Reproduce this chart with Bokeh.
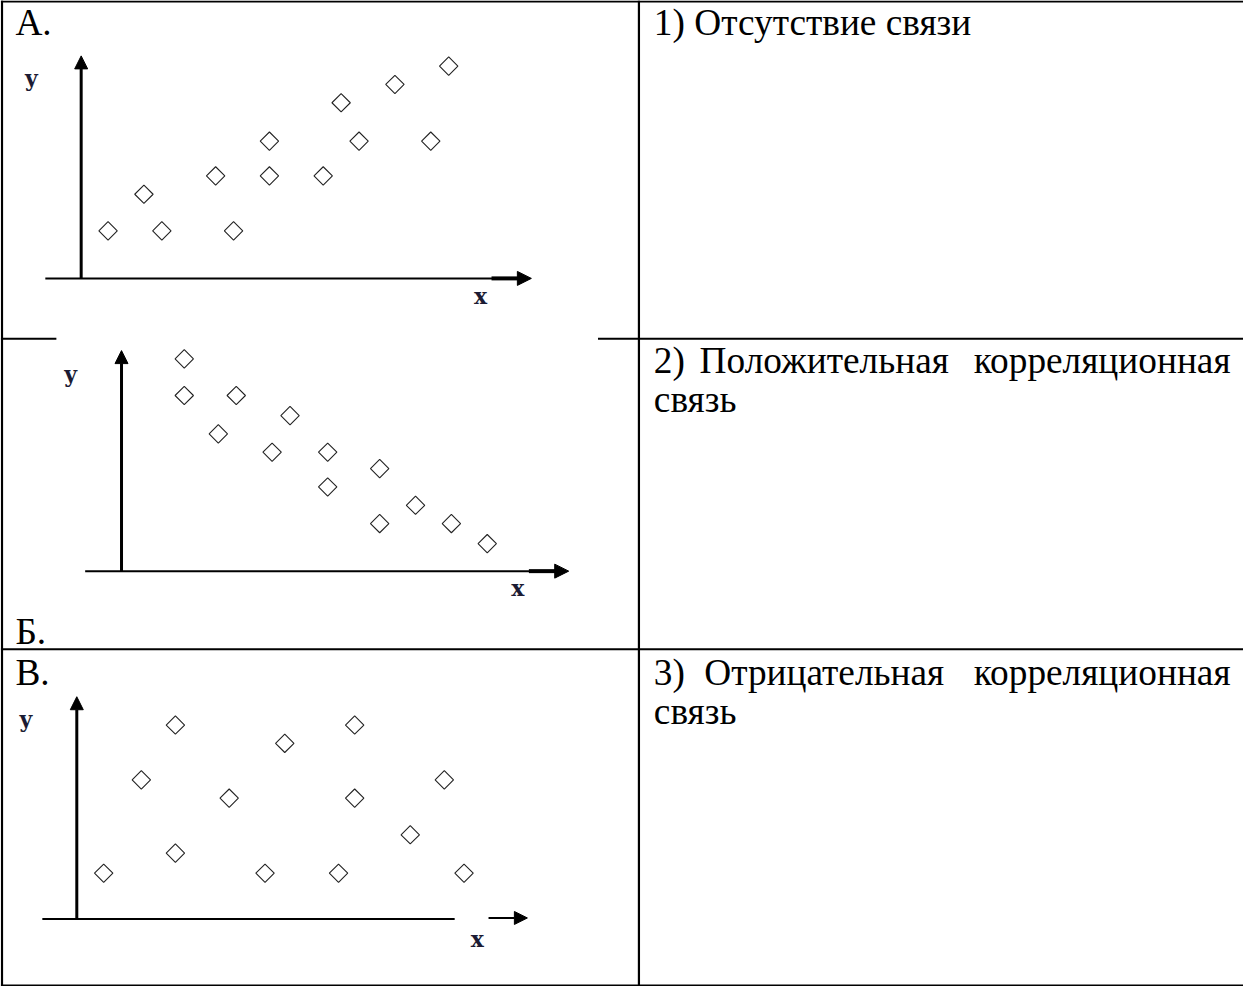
import numpy as np
from bokeh.plotting import figure
from bokeh.models import Range1d, Arrow, NormalHead
from bokeh.core.properties import value
from bokeh.embed import file_html
from bokeh.resources import INLINE

# ---------------- data ----------------
panel_labels = ["А.", "Б.", "В."]
answer_1 = "1) Отсутствие связи"
answer_2 = ["2)", "Положительная", "корреляционная", "связь"]
answer_3 = ["3)", "Отрицательная", "корреляционная", "связь"]
axis_x_label = "x"
axis_y_label = "y"

# panel А (positive trend)
a_x = [1.5, 3.5, 4.5, 7.5, 8.5, 10.5, 10.5, 13.5, 14.5, 15.5, 17.5, 19.5, 20.5]
a_y = [2.6, 4.6, 2.6, 5.6, 2.6, 7.5, 5.6, 5.6, 9.6, 7.5, 10.6, 7.5, 11.6]
# panel Б (negative trend)
b_x = [3.5, 3.5, 6.4, 5.4, 9.4, 8.4, 11.5, 11.5, 14.4, 14.4, 16.4, 18.4, 20.4]
b_y = [11.6, 9.6, 9.6, 7.5, 8.5, 6.5, 6.5, 4.6, 5.6, 2.6, 3.6, 2.6, 1.5]
# panel В (no relation)
c_x = [1.5, 3.6, 5.5, 5.5, 8.5, 10.5, 11.6, 14.6, 15.5, 15.5, 18.6, 20.5, 21.6]
c_y = [2.5, 7.6, 10.6, 3.6, 6.6, 2.5, 9.6, 2.5, 10.6, 6.6, 4.6, 7.6, 2.5]

# ---------------- layout (page coordinates) ----------------
X0, X1 = 5, 1253
YB, YT = 1001, 4
UX, UY = 18.0, 18.5

p = figure(width=1243, height=986, x_range=Range1d(X0, X1), y_range=Range1d(YB, YT),
           output_backend="svg", toolbar_location=None, min_border=0,
           x_axis_type=None, y_axis_type=None)
p.outline_line_color = None
p.background_fill_color = "white"
p.border_fill_color = "white"

# table borders
bx0 = [6.5, 6.5, 6.5, 1254, 646, 606, 6.5, 6.5]
by0 = [5, 1000, 5, 5, 5, 346, 346, 660]
bx1 = [1254, 1254, 6.5, 1254, 646, 1254, 60, 1254]
by1 = [5, 1000, 1000, 1000, 1000, 346, 346, 660]
p.segment(bx0, by0, bx1, by1, line_color="black", line_width=2.2, line_cap="square")

serif = value("Liberation Serif")
fs = "37.3px"

def put(x, y, s, align="left"):
    p.text(x=[x], y=[y], text=[s], text_font=serif, text_font_size=fs,
           text_color="black", text_baseline="alphabetic", text_align=align)

LS = 39  # line spacing

# left cell labels
put(20, 26.5, panel_labels[0])
put(20, 642.5, panel_labels[1])
put(20, 683, panel_labels[2])

# right column texts
TX, TR, TM = 661, 1240, 832
put(TX, 26.5, answer_1)
for words, base in ((answer_2, 368), (answer_3, 684)):
    put(TX, base, words[0])
    put(TM, base, words[1], "center")
    put(TR, base, words[2], "right")
    put(TX, base + LS, words[3])

# panels: origin, x-axis start, x tip, y tip, label positions
panels = [
    dict(name="A", ox=86, oy=285, xl=50, xt=538, yt=60, xs=(a_x, a_y),
         ylab=(36, 82), xlab=(487, 303), split=False),
    dict(name="B", ox=126.5, oy=581, xl=90, xt=575.5, yt=358, xs=(b_x, b_y),
         ylab=(75.5, 382), xlab=(524.5, 598), split=False),
    dict(name="C", ox=81.6, oy=932.7, xl=47, xt=534, yt=708, xs=(c_x, c_y),
         ylab=(30.6, 731), xlab=(483.7, 953), split=True),
]

lab_font = value("DejaVu Serif")
for pn in panels:
    nm, ox, oy = pn["name"], pn["ox"], pn["oy"]
    p.extra_x_ranges[nm] = Range1d((X0 - ox) / UX, (X1 - ox) / UX)
    p.extra_y_ranges[nm] = Range1d((oy - YB) / UY, (oy - YT) / UY)

    # y axis arrow
    p.add_layout(Arrow(end=NormalHead(size=13, fill_color="black", line_color="black", line_width=1),
                       x_start=ox, y_start=oy, x_end=ox, y_end=pn["yt"],
                       line_width=3, line_color="black"))
    # x axis
    if pn["split"]:
        p.segment([pn["xl"]], [oy], [461], [oy], line_color="black", line_width=2)
        p.add_layout(Arrow(end=NormalHead(size=13, fill_color="black", line_color="black", line_width=1),
                           x_start=495, y_start=oy - 1, x_end=pn["xt"], y_end=oy - 1,
                           line_width=2, line_color="black"))
    else:
        p.segment([pn["xl"]], [oy], [pn["xt"] - 12], [oy], line_color="black", line_width=2)
        p.segment([pn["xt"] - 40], [oy], [pn["xt"] - 12], [oy], line_color="black", line_width=4)
        p.add_layout(Arrow(end=NormalHead(size=14, fill_color="black", line_color="black", line_width=1),
                           x_start=pn["xt"] - 20, y_start=oy, x_end=pn["xt"], y_end=oy,
                           line_width=2, line_color="black"))

    # axis letters
    p.text(x=[pn["ylab"][0]], y=[pn["ylab"][1]], text=[axis_y_label], text_font=lab_font,
           text_font_style="bold", text_font_size="22px", text_color="#1b1b33",
           text_align="center", text_baseline="alphabetic")
    p.text(x=[pn["xlab"][0]], y=[pn["xlab"][1]], text=[axis_x_label], text_font=lab_font,
           text_font_style="bold", text_font_size="22px", text_color="#1b1b33",
           text_align="center", text_baseline="alphabetic")

    # scatter points
    xs, ys = pn["xs"]
    p.scatter(xs, ys, x_range_name=nm, y_range_name=nm, marker="square", angle=np.pi / 4,
              size=13, fill_color="white", line_color="#222222", line_width=1.1)

with open("out.html", "w", encoding="utf-8") as f:
    f.write(file_html(p, INLINE))
